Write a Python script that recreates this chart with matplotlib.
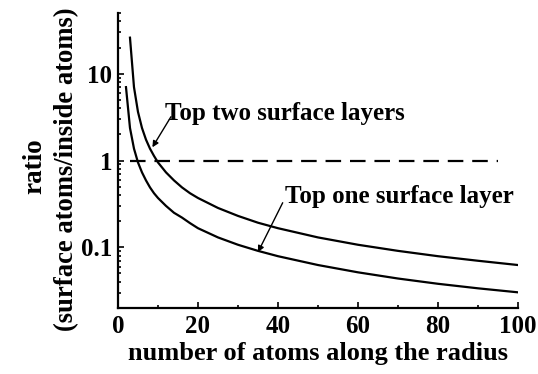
import matplotlib
matplotlib.use("Agg")
import matplotlib.pyplot as plt
from matplotlib.ticker import FixedLocator, LogLocator, NullFormatter

# Ratio of surface atoms to inside atoms vs. number of atoms along the radius
radius_one = [2, 3, 4, 5, 6, 7, 8, 9, 10, 12, 14, 16, 18, 20, 25, 30, 35, 40,
              50, 60, 70, 80, 90, 100]
ratio_one = [7.0, 2.37, 1.37, 0.95, 0.73, 0.59, 0.49, 0.42, 0.37, 0.30, 0.25,
             0.22, 0.19, 0.166, 0.130, 0.107, 0.091, 0.079, 0.0625, 0.0515,
             0.0437, 0.038, 0.0337, 0.0303]

radius_two = [3, 4, 5, 6, 7, 8, 9, 10, 12, 14, 16, 18, 20, 25, 30, 35, 40,
              50, 60, 70, 80, 90, 100]
ratio_two = [26.0, 7.0, 3.63, 2.37, 1.74, 1.37, 1.13, 0.95, 0.73, 0.59, 0.49,
             0.42, 0.37, 0.284, 0.230, 0.192, 0.166, 0.130, 0.107, 0.091,
             0.079, 0.070, 0.0625]

reference_x = [3, 95]
reference_y = [1.0, 1.0]

x_ticks = [0, 20, 40, 60, 80, 100]
y_ticks = [0.1, 1, 10]
y_tick_labels = ["0.1", "1", "10"]

label_one = "Top one surface layer"
label_two = "Top two surface layers"

serif = ["Liberation Serif", "DejaVu Serif"]
plt.rcParams["font.family"] = serif
plt.rcParams["font.weight"] = "bold"

fig = plt.figure(figsize=(5.38, 3.74), dpi=100)
ax = fig.add_axes([0.2193, 0.1765, 0.7435, 0.7887])

ax.plot(radius_one, ratio_one, color="black", lw=1.6)
ax.plot(radius_two, ratio_two, color="black", lw=1.6)
ax.plot(reference_x, reference_y, color="black", lw=1.6, dashes=(7, 4))

ax.set_yscale("log")
ax.set_xlim(0, 100)
ax.set_ylim(0.02, 50)

ax.spines["top"].set_visible(False)
ax.spines["right"].set_visible(False)
for s in ("left", "bottom"):
    ax.spines[s].set_linewidth(1.6)

ax.xaxis.set_major_locator(FixedLocator(x_ticks))
ax.xaxis.set_minor_locator(FixedLocator([10, 30, 50, 70, 90]))
ax.yaxis.set_major_locator(FixedLocator(y_ticks))
ax.set_yticklabels(y_tick_labels)
ax.yaxis.set_minor_locator(LogLocator(base=10, subs=range(2, 10)))
ax.yaxis.set_minor_formatter(NullFormatter())

ax.tick_params(which="both", direction="in", width=1.2, labelsize=18)
ax.tick_params(which="major", length=4)
ax.tick_params(axis="x", which="major", pad=5)
ax.tick_params(axis="y", which="major", pad=4)
ax.tick_params(which="minor", length=2.5)
for lab in ax.get_xticklabels() + ax.get_yticklabels():
    lab.set_fontweight("bold")

ax.set_xlabel("number of atoms along the radius", fontsize=19,
              fontweight="bold", labelpad=3)
fig.text(0.065, 0.555, "ratio", rotation=90, fontsize=19.5, fontweight="bold",
         ha="center", va="center")
fig.text(0.123, 0.548, "(surface atoms/inside atoms)", rotation=90,
         fontsize=19.2, fontweight="bold", ha="center", va="center")

ax.annotate(label_two, xy=(8.6, 1.42), xytext=(11.75, 3.5),
            fontsize=18, fontweight="bold", ha="left", va="center",
            arrowprops=dict(arrowstyle="-|>", color="black", lw=1.0,
                            mutation_scale=9, shrinkA=0, shrinkB=0,
                            patchA=None, relpos=(0.025, 0.35)))
ax.annotate(label_one, xy=(35, 0.088), xytext=(41.75, 0.38),
            fontsize=18, fontweight="bold", ha="left", va="center",
            arrowprops=dict(arrowstyle="-|>", color="black", lw=1.0,
                            mutation_scale=9, shrinkA=0, shrinkB=0,
                            patchA=None, relpos=(-0.01, 0.25)))

fig.savefig("out.png", dpi=100)
